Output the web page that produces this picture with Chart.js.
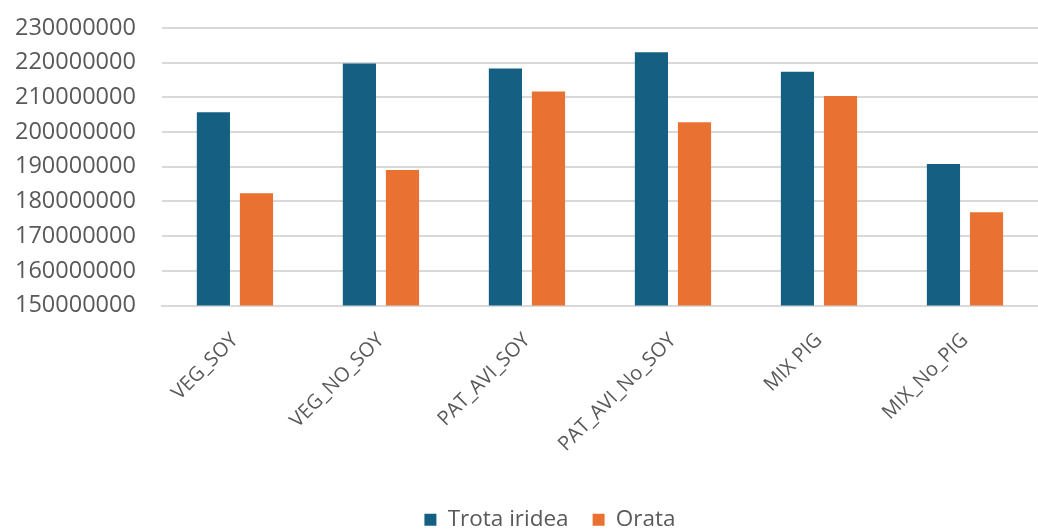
<!DOCTYPE html>
<html>
<head>
<meta charset="utf-8">
<script src="https://cdn.jsdelivr.net/npm/chart.js@4"></script>
<style>
  html, body { margin: 0; padding: 0; background: #fff; }
  #wrap { width: 1038px; height: 529px; }
</style>
</head>
<body>
<div id="wrap"><canvas id="chart"></canvas></div>
<script>
// values
const categories = ['VEG_SOY', 'VEG_NO_SOY', 'PAT_AVI_SOY', 'PAT_AVI_No_SOY', 'MIX PIG', 'MIX_No_PIG'];
const trotaIridea = [205700000, 219800000, 218300000, 223000000, 217400000, 190800000];
const orata = [182400000, 189100000, 211700000, 202800000, 210400000, 176900000];
const yMin = 150000000;
const yMax = 230000000;
const yStep = 10000000;

const textGrey = '#595959';
const gridGrey = '#d9d9d9';
const fontFamily = 'Open Sans';

// legend in the original sits a bit right of the canvas centre
const legendShift = {
    id: 'legendShift',
    afterLayout(chart) {
        chart.legend.left += 47;
    }
};

new Chart(document.getElementById('chart'), {
    type: 'bar',
    data: {
        labels: categories,
        datasets: [
            { label: 'Trota iridea', data: trotaIridea, backgroundColor: '#156082' },
            { label: 'Orata', data: orata, backgroundColor: '#e97132' }
        ]
    },
    plugins: [legendShift],
    options: {
        responsive: true,
        maintainAspectRatio: false,
        animation: false,
        categoryPercentage: 0.59,
        barPercentage: 0.77,
        layout: { padding: { top: 28, right: 0, left: 15, bottom: -12 } },
        plugins: {
            legend: {
                position: 'bottom',
                labels: {
                    color: textGrey,
                    font: { family: fontFamily, size: 22.5 },
                    boxWidth: 12,
                    boxHeight: 12,
                    padding: 24
                }
            },
            tooltip: { enabled: false }
        },
        scales: {
            x: {
                grid: { display: false },
                border: { color: gridGrey, width: 2 },
                ticks: {
                    color: textGrey,
                    font: { family: fontFamily, size: 20 },
                    maxRotation: 45,
                    minRotation: 45,
                    padding: 15
                },
                // leave the empty band between the labels and the legend
                afterFit: scale => { scale.height += 13; }
            },
            y: {
                min: yMin,
                max: yMax,
                border: { display: false },
                // invisible tick marks give the gap next to the labels
                grid: { color: gridGrey, lineWidth: 2, drawTicks: true, tickLength: 26, tickColor: 'rgba(0,0,0,0)' },
                ticks: {
                    stepSize: yStep,
                    color: textGrey,
                    font: { family: fontFamily, size: 23.5 },
                    padding: 0,
                    callback: v => String(v)
                }
            }
        }
    }
});
</script>
</body>
</html>
